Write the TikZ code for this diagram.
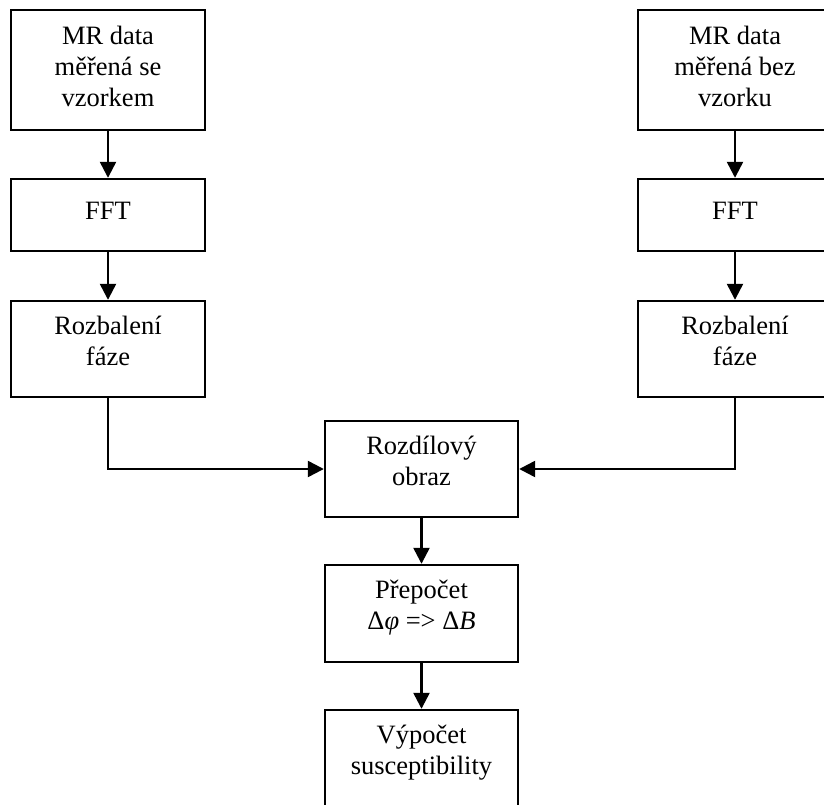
\documentclass[tikz,border=0pt]{standalone}
\usepackage{fontspec}
\setmainfont{Liberation Serif}
\usetikzlibrary{arrows.meta}
\begin{document}
\begin{tikzpicture}[x=1pt,y=-1pt,
  box/.style={draw=black,line width=2.4pt,rectangle,inner sep=0pt,minimum width=194pt},
  txt/.style={anchor=north,align=center,inner sep=0pt,font=\fontsize{26.5}{31}\selectfont,
    execute at begin node={\rule{0pt}{24pt}}},
  conn/.style={line width=2.4pt,-{Triangle[length=16pt,width=16pt]}}]
\useasboundingbox (0,0) rectangle (824,805);
\clip (0,0) rectangle (824,805);
% left column
\node[box,minimum height=120pt] (l1) at (108,70) {};
\node[box,minimum height=72pt] (l2) at (108,215) {};
\node[box,minimum height=96pt] (l3) at (108,349) {};
% right column
\node[box,minimum height=120pt] (r1) at (735,70) {};
\node[box,minimum height=72pt] (r2) at (735,215) {};
\node[box,minimum height=96pt] (r3) at (735,349) {};
% center column
\node[box,minimum width=193pt,minimum height=96pt] (c1) at (421.5,469) {};
\node[box,minimum width=193pt,minimum height=97pt] (c2) at (421.5,613.5) {};
\node[box,minimum width=193pt,minimum height=97pt] (c3) at (421.5,758.5) {};
% texts
\node[txt] (t1) at ([yshift=-17pt]l1.north) {MR data\\měřená se\\vzorkem};
\node[txt] (t2) at ([yshift=-17pt]l2.north) {FFT};
\node[txt] (t3) at ([yshift=-16pt]l3.north) {Rozbalení\\fáze};
\node[txt] (t4) at ([yshift=-17pt]r1.north) {MR data\\měřená bez\\vzorku};
\node[txt] (t5) at ([yshift=-17pt]r2.north) {FFT};
\node[txt] (t6) at ([yshift=-16pt]r3.north) {Rozbalení\\fáze};
\node[txt] (t7) at ([yshift=-16pt]c1.north) {Rozdílový\\obraz};
\node[txt] (t8) at ([yshift=-16pt]c2.north) {Přepočet\\Δ\textit{φ} => Δ\textit{B}};
\node[txt] (t9) at ([yshift=-16pt]c3.north) {Výpočet\\susceptibility};
% connectors
\draw[conn] (l1.south) -- (l2.north);
\draw[conn] (l2.south) -- (l3.north);
\draw[conn] (r1.south) -- (r2.north);
\draw[conn] (r2.south) -- (r3.north);
\draw[conn] (l3.south) |- (c1.west);
\draw[conn] (r3.south) |- (c1.east);
\draw[conn] (c1.south) -- (c2.north);
\draw[conn] (c2.south) -- (c3.north);
\end{tikzpicture}
\end{document}
